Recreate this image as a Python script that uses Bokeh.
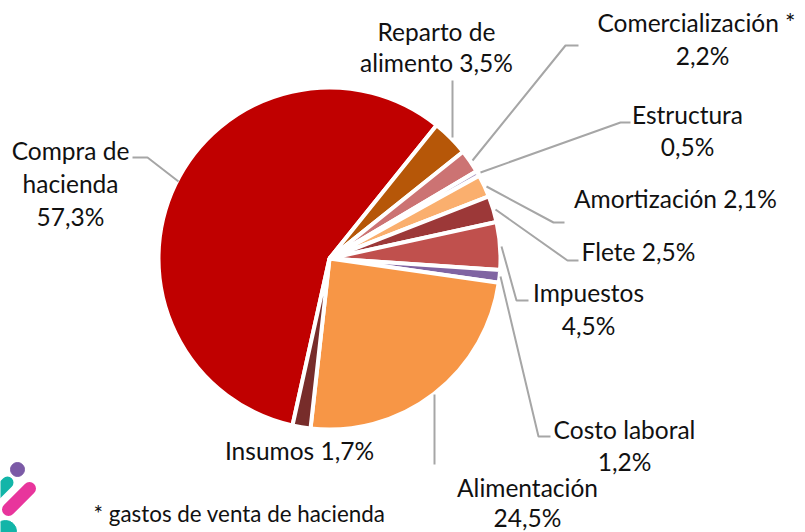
from math import pi
import numpy as np
from bokeh.plotting import figure
from bokeh.models import Range1d, ColumnDataSource
from bokeh.core.properties import value
from bokeh.embed import file_html
from bokeh.resources import INLINE

categories = ["Compra de hacienda", "Reparto de alimento", "Comercialización", "Estructura",
              "Amortización", "Flete", "Impuestos", "Costo laboral", "Alimentación", "Insumos"]
shares = [57.3, 3.5, 2.2, 0.5, 2.1, 2.5, 4.5, 1.2, 24.5, 1.7]
colors = ["#C00000", "#B65708", "#CC7373", "#B3A2C7", "#FAAF6E", "#9C3838", "#C0504D", "#8064A2", "#F79646", "#772C2A"]
labels = [
    (70, 150, "Compra de"), (70, 183, "hacienda"), (70, 216, "57,3%"),
    (436, 31, "Reparto de"), (436, 62, "alimento 3,5%"),
    (696, 22, "Comercialización *"), (702, 55, "2,2%"),
    (687, 114, "Estructura"), (687, 146, "0,5%"),
    (675, 198, "Amortización 2,1%"),
    (638, 251, "Flete 2,5%"),
    (588, 292, "Impuestos"), (588, 325, "4,5%"),
    (624, 429, "Costo laboral"), (624, 461, "1,2%"),
    (299, 450, "Insumos 1,7%"),
    (527, 487, "Alimentación"), (527, 517, "24,5%"),
]
footnote = "* gastos de venta de hacienda"
leaders = [
    ([178, 147, 132], [181, 157, 157]),
    ([452, 452], [137, 80]),
    ([472, 565, 578], [160, 45, 45]),
    ([480, 620, 630], [172, 122, 122]),
    ([486, 553, 564], [186, 222, 222]),
    ([495, 567, 578], [209, 260, 260]),
    ([501, 516, 528], [246, 300, 300]),
    ([500, 538, 550], [276, 436, 436]),
    ([434, 434], [394, 464]),
]
H = 532
CX, CY, R = 329, 258, 171
START_DEG = 192.5

p = figure(width=805, height=532, output_backend="svg", toolbar_location=None,
           x_range=Range1d(0, 805), y_range=Range1d(0, 532), min_border=0)
p.axis.visible = False
p.grid.visible = False
p.outline_line_color = None

# Clockwise from north, converted to Bokeh's counter-clockwise-from-east angles
edges = START_DEG + np.concatenate([[0], np.cumsum(shares)]) * 3.6
a0 = np.radians(90 - edges[:-1])
a1 = np.radians(90 - edges[1:])
src = ColumnDataSource(dict(cat=categories, share=shares, color=colors, start=a1, end=a0))
p.wedge(x=CX, y=H - CY, radius=R, start_angle="start", end_angle="end", source=src,
        fill_color="color", line_color="white", line_width=4)

for xs, ys in leaders:
    p.line(xs, [H - y for y in ys], line_color="#A6A6A6", line_width=2)

p.text([l[0] for l in labels], [H - l[1] for l in labels], text=[l[2] for l in labels],
       text_font=value("Lato"), text_font_size="24.5px", text_color="#111111",
       text_align="center", text_baseline="middle")
p.text([93], [H - 513], text=[footnote], text_font=value("Lato"), text_font_size="22.4px",
       text_color="#111111", text_align="left", text_baseline="middle")

# Logo fragment in the lower-left corner
p.scatter([17], [H - 469], size=14, color="#7B5AA6")
p.line([-4, 7], [H - 493, H - 482], line_color="#12B5A8", line_width=12, line_cap="round")
p.line([8, 29], [H - 509, H - 488], line_color="#E8359C", line_width=13, line_cap="round")
p.scatter([5], [H - 531], size=22, color="#12B5A8")

open("out.html", "w").write(file_html(p, INLINE))
